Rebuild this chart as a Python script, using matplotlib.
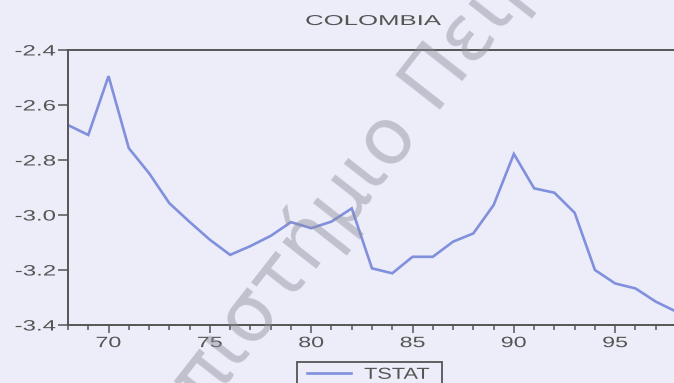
import matplotlib
matplotlib.use("Agg")
import matplotlib.pyplot as plt
from matplotlib.patheffects import AbstractPathEffect
from matplotlib.transforms import Affine2D
from matplotlib.legend_handler import HandlerLine2D

# ---- data -------------------------------------------------------------
years = list(range(1968, 1999))
tstat = [-2.673, -2.709, -2.495, -2.757, -2.848, -2.957, -3.025, -3.090,
         -3.145, -3.113, -3.076, -3.026, -3.048, -3.024, -2.976, -3.194,
         -3.212, -3.152, -3.152, -3.097, -3.067, -2.964, -2.778, -2.903,
         -2.919, -2.992, -3.200, -3.249, -3.267, -3.315, -3.351]
x_major = [1970, 1975, 1980, 1985, 1990, 1995]
x_labels = ["70", "75", "80", "85", "90", "95"]
y_ticks = [-3.4, -3.2, -3.0, -2.8, -2.6, -2.4]
y_labels = ["-3.4", "-3.2", "-3.0", "-2.8", "-2.6", "-2.4"]
title = "COLOMBIA"
series_name = "TSTAT"
watermark = "Πανεπιστήμιο Πειραιώς"

BG = "#ECEDF8"
INK = "#555555"
LINE = "#8090DD"


class Widen(AbstractPathEffect):
    """Horizontally stretch text glyphs about a chosen anchor."""

    def __init__(self, sx, anchor="center"):
        super().__init__()
        self.sx = sx
        self.anchor = anchor

    def draw_path(self, renderer, gc, tpath, affine, rgbFace=None):
        ext = tpath.get_extents()
        if self.anchor == "left":
            x0 = 0.0
        elif self.anchor == "right":
            x0 = ext.x1
        else:
            x0 = 0.5 * (ext.x0 + ext.x1)
        stretch = Affine2D().translate(-x0, 0).scale(self.sx, 1.0).translate(x0, 0)
        renderer.draw_path(gc, tpath, stretch + affine, rgbFace)


plt.rcParams["font.family"] = ["Liberation Sans", "DejaVu Sans"]
plt.rcParams["axes.unicode_minus"] = False

W, H = 674, 383
fig = plt.figure(figsize=(W / 100, H / 100), dpi=100, facecolor=BG)
ax = fig.add_axes([68 / W, (H - 325) / H, 608 / W, 275 / H], facecolor=BG)

ax.plot(years, tstat, color=LINE, lw=1.9, solid_joinstyle="miter", label=series_name)

ax.set_xlim(1968, 1998)
ax.set_ylim(-3.4, -2.4)

ax.set_xticks(x_major)
ax.set_xticklabels(x_labels)
ax.set_xticks(years, minor=True)
ax.set_yticks(y_ticks)
ax.set_yticklabels(y_labels)

ax.tick_params(axis="x", which="major", direction="out", length=6, width=1.1,
               color=INK, labelcolor=INK, labelsize=10.8, pad=2)
ax.tick_params(axis="x", which="minor", direction="out", length=3.6, width=1.1,
               color=INK)
ax.tick_params(axis="y", which="major", direction="out", length=7.5, width=1.1,
               color=INK, labelcolor=INK, labelsize=10.8, pad=1.5)
for side in ("left", "bottom", "top", "right"):
    ax.spines[side].set_color(INK)
    ax.spines[side].set_linewidth(1.4)

fig.text(373 / W, (H - 25) / H, title, ha="center", va="baseline",
         fontsize=10.3, color=INK, path_effects=[Widen(1.8, "center")])

leg = ax.legend(loc="upper left", mode="expand",
                bbox_to_anchor=(297 / W, -0.3, 145 / W, 0.3 + 21 / H),
                bbox_transform=fig.transFigure, borderaxespad=0,
                fontsize=11.5, frameon=True, fancybox=False, framealpha=1,
                facecolor=BG, edgecolor=INK, borderpad=0.3,
                handlelength=3.1, handletextpad=0.8,
                handler_map={ax.lines[0]: HandlerLine2D(xpad=0.3)})
leg.get_frame().set_linewidth(1.3)
for t in leg.get_texts():
    t.set_color(INK)
    t.set_path_effects([Widen(1.36, "left")])

fig.text(84 / W, (H - 566) / H, watermark, rotation=52, rotation_mode="anchor",
         ha="left", va="baseline", fontsize=57, color="#8c8c9c", alpha=0.45,
         family="DejaVu Sans", zorder=10)

fig.canvas.draw()
for lbl in ax.get_xticklabels():
    lbl.set_path_effects([Widen(1.55, "center")])
for lbl in ax.get_yticklabels():
    lbl.set_path_effects([Widen(1.6, "right")])

fig.savefig("out.png", dpi=100, facecolor=BG)
